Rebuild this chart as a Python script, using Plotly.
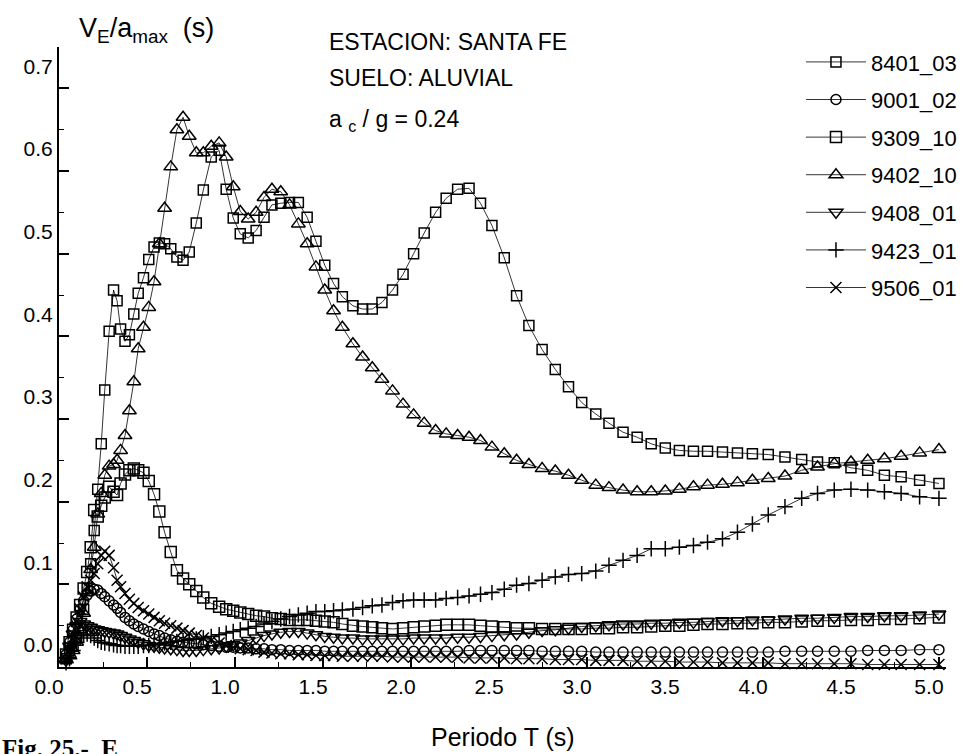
import plotly.graph_objects as go

# Period grid (s)
T = [
    0.04, 0.06, 0.08, 0.10, 0.12, 0.14, 0.16, 0.18, 0.20, 0.22,
    0.24, 0.26, 0.285, 0.31, 0.33, 0.35, 0.375, 0.40, 0.425, 0.45,
    0.48, 0.51, 0.54, 0.57, 0.60, 0.635, 0.67, 0.705, 0.74, 0.78,
    0.82, 0.865, 0.91, 0.95, 0.99, 1.03, 1.075, 1.12, 1.165, 1.21,
    1.26, 1.31, 1.36, 1.41, 1.46, 1.51, 1.56, 1.61, 1.67, 1.725,
    1.78, 1.835, 1.895, 1.955, 2.015, 2.075, 2.14, 2.2, 2.265, 2.33,
    2.395, 2.46, 2.53, 2.6, 2.67, 2.745, 2.82, 2.895, 2.97, 3.05,
    3.125, 3.205, 3.285, 3.365, 3.445, 3.525, 3.605, 3.685, 3.77, 3.855,
    3.94, 4.03, 4.125, 4.22, 4.31, 4.405, 4.5, 4.595, 4.69, 4.785,
    4.89, 5.0]

s8401_03 = [
    0.010, 0.020, 0.025, 0.035, 0.050, 0.070, 0.095, 0.125, 0.165, 0.215,
    0.270, 0.335, 0.406, 0.456, 0.443, 0.409, 0.394, 0.402, 0.427, 0.452,
    0.471, 0.493, 0.508, 0.513, 0.512, 0.506, 0.496, 0.492, 0.502, 0.537,
    0.577, 0.617, 0.625, 0.578, 0.543, 0.524, 0.519, 0.528, 0.544, 0.559,
    0.561, 0.562, 0.562, 0.544, 0.515, 0.486, 0.464, 0.448, 0.437, 0.433,
    0.433, 0.441, 0.456, 0.475, 0.500, 0.525, 0.550, 0.567, 0.578, 0.579,
    0.561, 0.534, 0.495, 0.449, 0.413, 0.384, 0.360, 0.339, 0.320, 0.306,
    0.295, 0.284, 0.278, 0.270, 0.265, 0.262, 0.261, 0.261, 0.260, 0.259,
    0.258, 0.257, 0.254, 0.251, 0.248, 0.247, 0.241, 0.238, 0.232, 0.230,
    0.226, 0.222]

s9001_02 = [
    0.015, 0.030, 0.045, 0.058, 0.070, 0.080, 0.087, 0.092, 0.094, 0.093,
    0.089, 0.085, 0.080, 0.075, 0.071, 0.066, 0.060, 0.056, 0.052, 0.049,
    0.046, 0.043, 0.040, 0.038, 0.035, 0.033, 0.031, 0.030, 0.029, 0.028,
    0.027, 0.026, 0.025, 0.024, 0.024, 0.023, 0.023, 0.022, 0.022, 0.021,
    0.021, 0.020, 0.020, 0.020, 0.020, 0.019, 0.019, 0.019, 0.019, 0.019,
    0.019, 0.019, 0.019, 0.019, 0.019, 0.019, 0.019, 0.019, 0.019, 0.020,
    0.020, 0.020, 0.020, 0.020, 0.020, 0.019, 0.019, 0.019, 0.019, 0.018,
    0.018, 0.018, 0.018, 0.018, 0.018, 0.018, 0.018, 0.018, 0.018, 0.018,
    0.018, 0.018, 0.019, 0.019, 0.019, 0.019, 0.019, 0.020, 0.020, 0.020,
    0.021, 0.021]

s9309_10 = [
    0.015, 0.030, 0.045, 0.060, 0.075, 0.095, 0.115, 0.145, 0.190, 0.182,
    0.195, 0.205, 0.218, 0.212, 0.208, 0.222, 0.233, 0.238, 0.240, 0.238,
    0.235, 0.225, 0.209, 0.188, 0.163, 0.139, 0.117, 0.107, 0.100, 0.092,
    0.084, 0.077, 0.073, 0.070, 0.068, 0.066, 0.064, 0.062, 0.061, 0.059,
    0.058, 0.057, 0.057, 0.057, 0.056, 0.055, 0.054, 0.052, 0.050, 0.049,
    0.048, 0.047, 0.046, 0.047, 0.048, 0.049, 0.050, 0.051, 0.051, 0.051,
    0.050, 0.049, 0.048, 0.047, 0.047, 0.046, 0.046, 0.046, 0.046, 0.047,
    0.047, 0.048, 0.048, 0.049, 0.050, 0.050, 0.051, 0.052, 0.052, 0.053,
    0.053, 0.054, 0.054, 0.055, 0.056, 0.056, 0.057, 0.057, 0.058, 0.058,
    0.059, 0.060]

s9402_10 = [
    0.010, 0.015, 0.020, 0.030, 0.045, 0.065, 0.090, 0.118, 0.145, 0.185,
    0.210, 0.232, 0.243, 0.245, 0.250, 0.262, 0.280, 0.310, 0.345, 0.385,
    0.411, 0.435, 0.466, 0.512, 0.555, 0.605, 0.650, 0.665, 0.642, 0.622,
    0.622, 0.630, 0.634, 0.617, 0.581, 0.551, 0.542, 0.550, 0.568, 0.578,
    0.575, 0.559, 0.536, 0.512, 0.484, 0.456, 0.431, 0.411, 0.391, 0.375,
    0.362, 0.348, 0.334, 0.318, 0.305, 0.295, 0.286, 0.282, 0.280, 0.278,
    0.274, 0.266, 0.258, 0.250, 0.245, 0.240, 0.237, 0.232, 0.226, 0.220,
    0.217, 0.214, 0.212, 0.212, 0.213, 0.215, 0.218, 0.220, 0.221, 0.223,
    0.226, 0.228, 0.231, 0.238, 0.242, 0.246, 0.248, 0.250, 0.252, 0.255,
    0.259, 0.263]

s9408_01 = [
    0.008, 0.025, 0.040, 0.050, 0.055, 0.052, 0.050, 0.048, 0.046, 0.045,
    0.044, 0.043, 0.042, 0.041, 0.040, 0.038, 0.036, 0.034, 0.032, 0.030,
    0.028, 0.026, 0.025, 0.024, 0.023, 0.022, 0.021, 0.020, 0.020, 0.020,
    0.021, 0.022, 0.023, 0.025, 0.027, 0.029, 0.032, 0.035, 0.038, 0.040,
    0.042, 0.043, 0.043, 0.041, 0.039, 0.037, 0.036, 0.035, 0.035, 0.034,
    0.034, 0.034, 0.034, 0.034, 0.035, 0.035, 0.035, 0.035, 0.036, 0.036,
    0.037, 0.038, 0.039, 0.040, 0.042, 0.044, 0.045, 0.047, 0.049, 0.050,
    0.051, 0.052, 0.052, 0.053, 0.053, 0.054, 0.054, 0.055, 0.056, 0.056,
    0.057, 0.057, 0.058, 0.059, 0.059, 0.060, 0.061, 0.061, 0.062, 0.062,
    0.063, 0.064]

s9423_01 = [
    0.005, 0.010, 0.020, 0.030, 0.035, 0.038, 0.040, 0.038, 0.035, 0.032,
    0.030, 0.029, 0.028, 0.027, 0.026, 0.026, 0.025, 0.025, 0.025, 0.025,
    0.026, 0.026, 0.027, 0.028, 0.029, 0.030, 0.031, 0.032, 0.033, 0.034,
    0.035, 0.037, 0.039, 0.041, 0.043, 0.045, 0.047, 0.049, 0.052, 0.055,
    0.058, 0.061, 0.063, 0.065, 0.067, 0.067, 0.068, 0.069, 0.070, 0.072,
    0.074, 0.075, 0.078, 0.080, 0.081, 0.081, 0.081, 0.083, 0.084, 0.086,
    0.088, 0.090, 0.094, 0.099, 0.101, 0.105, 0.109, 0.112, 0.113, 0.116,
    0.123, 0.129, 0.135, 0.143, 0.143, 0.145, 0.147, 0.151, 0.155, 0.163,
    0.173, 0.184, 0.194, 0.204, 0.210, 0.214, 0.215, 0.214, 0.212, 0.210,
    0.206, 0.204]

s9506_01 = [
    0.010, 0.025, 0.040, 0.055, 0.070, 0.085, 0.097, 0.105, 0.113, 0.125,
    0.135, 0.140, 0.135, 0.120, 0.105, 0.097, 0.089, 0.082, 0.077, 0.072,
    0.068, 0.064, 0.060, 0.056, 0.053, 0.050, 0.047, 0.044, 0.041, 0.038,
    0.035, 0.032, 0.029, 0.026, 0.024, 0.022, 0.021, 0.020, 0.018, 0.017,
    0.016, 0.016, 0.015, 0.015, 0.014, 0.014, 0.014, 0.013, 0.013, 0.013,
    0.013, 0.013, 0.012, 0.012, 0.012, 0.012, 0.012, 0.012, 0.012, 0.011,
    0.011, 0.011, 0.011, 0.010, 0.010, 0.010, 0.009, 0.009, 0.009, 0.008,
    0.008, 0.008, 0.007, 0.007, 0.007, 0.006, 0.006, 0.006, 0.005, 0.005,
    0.005, 0.005, 0.004, 0.004, 0.004, 0.004, 0.004, 0.003, 0.003, 0.003,
    0.003, 0.003]

names = ["8401_03", "9001_02", "9309_10", "9402_10", "9408_01", "9423_01", "9506_01"]
series = [s8401_03, s9001_02, s9309_10, s9402_10, s9408_01, s9423_01, s9506_01]
symbols = ["square-open", "circle-open", "square-open", "triangle-up-open",
           "triangle-down-open", "cross-thin-open", "x-thin-open"]
sizes = [10, 10, 11, 12, 12, 11, 11]

FONT = "Liberation Sans, Arial, Helvetica, sans-serif"

fig = go.Figure()
for name, vals, sym, sz in zip(names, series, symbols, sizes):
    fig.add_trace(go.Scatter(
        x=T, y=vals, name=name, legendgroup=name,
        mode="lines+markers",
        line=dict(color="black", width=0.8),
        marker=dict(symbol=sym, size=sz, color="black",
                    line=dict(color="black", width=1.5)),
        cliponaxis=False,
    ))

axis_common = dict(
    showline=True, linecolor="black", linewidth=2, mirror=False,
    showgrid=False, zeroline=False, ticks="inside", ticklen=10,
    tickwidth=1.5, tickcolor="black", tickformat=".1f",
    tickfont=dict(family=FONT, size=21, color="black"),
)

fig.update_layout(
    width=976, height=754,
    margin=dict(l=59, r=30, t=47, b=87),
    paper_bgcolor="white", plot_bgcolor="white",
    font=dict(family=FONT, color="black"),
    xaxis=dict(range=[0, 5.04], tickmode="linear", tick0=0, dtick=0.5,
               minor=dict(dtick=0.25, ticks="inside", ticklen=5,
                          tickwidth=1.2, tickcolor="black"),
               ticklabelshift=-10, **axis_common),
    yaxis=dict(range=[0, 0.75], tickmode="linear", tick0=0, dtick=0.1,
               minor=dict(dtick=0.05, ticks="inside", ticklen=5,
                          tickwidth=1.2, tickcolor="black"),
               ticklabelshift=-22, **axis_common),
    legend=dict(x=1.018, xanchor="right", y=1.0095, yanchor="top",
                font=dict(family=FONT, size=22, color="black"),
                bgcolor="rgba(0,0,0,0)", itemwidth=60,
                tracegroupgap=6, traceorder="grouped"),
    showlegend=True,
)

ann_font = dict(family=FONT, size=23, color="black")
fig.add_annotation(xref="paper", yref="paper", x=0.0203, y=1.027,
                   xanchor="left", yanchor="middle", showarrow=False,
                   text="V<sub>E</sub>/a<sub>max</sub>  (s)",
                   font=dict(family=FONT, size=27, color="black"))
fig.add_annotation(xref="paper", yref="paper", x=0.302, y=1.008,
                   xanchor="left", yanchor="middle", showarrow=False,
                   text="ESTACION: SANTA FE", font=ann_font)
fig.add_annotation(xref="paper", yref="paper", x=0.302, y=0.95,
                   xanchor="left", yanchor="middle", showarrow=False,
                   text="SUELO: ALUVIAL", font=ann_font)
fig.add_annotation(xref="paper", yref="paper", x=0.302, y=0.881,
                   xanchor="left", yanchor="middle", showarrow=False,
                   text="a <sub>c</sub> / g = 0.24", font=ann_font)
fig.add_annotation(xref="paper", yref="paper", x=0.5, y=-0.113,
                   xanchor="center", yanchor="middle", showarrow=False,
                   text="Periodo T (s)",
                   font=dict(family=FONT, size=25, color="black"))
fig.add_annotation(xref="paper", yref="paper", x=-0.0665, y=-0.132,
                   xanchor="left", yanchor="middle", showarrow=False,
                   text="<b>Fig. 25.-  E</b>",
                   font=dict(family="Liberation Serif, Times New Roman, serif",
                             size=25, color="black"))

fig.write_html("out.html")
